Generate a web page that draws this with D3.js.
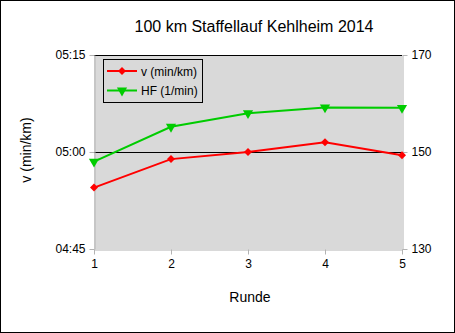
<!DOCTYPE html>
<html><head><meta charset="utf-8">
<script src="https://cdn.jsdelivr.net/npm/d3@7"></script>
<style>body{margin:0;background:#fff}svg{display:block;font-family:"Liberation Sans",Arial,sans-serif}</style>
</head><body><svg id="c" width="455" height="333"></svg>
<script>
const rounds = [1, 2, 3, 4, 5];
// pace in seconds (min*60+s)
const paceSec = [294.5, 298.9, 300.0, 301.5, 299.5];
const heartRate = [148.0, 155.2, 158.0, 159.2, 159.1];
const leftTicks = [285, 300, 315];
const leftTickLabels = ["04:45", "05:00", "05:15"];
const rightTicks = [130, 150, 170];
const seriesNames = ["v (min/km)", "HF (1/min)"];
const title = "100 km Staffellauf Kehlheim 2014";

const svg = d3.select("#c");
const L = 94, R = 402, T = 55, B = 249;
svg.append("rect").attr("x",0.5).attr("y",0.5).attr("width",454).attr("height",332).attr("fill","#fff").attr("stroke","#000");

const x = d3.scaleLinear().domain([1,5]).range([L,R]);
const yL = d3.scaleLinear().domain([285,315]).range([B,T]);
const yR = d3.scaleLinear().domain([130,170]).range([B,T]);

svg.append("rect").attr("x",L).attr("y",T).attr("width",R-L).attr("height",B-T).attr("fill","#d9d9d9");
// gridlines
svg.append("g").selectAll("line").data(leftTicks.slice(1)).join("line")
  .attr("x1",L).attr("x2",R).attr("y1",d=>Math.round(yL(d))+0.5).attr("y2",d=>Math.round(yL(d))+0.5)
  .attr("stroke","#000").attr("stroke-width",1);

const fmt = d => leftTickLabels[leftTicks.indexOf(d)];
const ax = (g)=>{g.selectAll(".domain").attr("stroke","#b3b3b3");g.selectAll(".tick line").attr("stroke","#b3b3b3");g.selectAll("text").attr("fill","#000").style("font-size","12px").style("font-family","'Liberation Sans',Arial,sans-serif");};
svg.append("g").attr("transform",`translate(${L+0.5},0)`).call(d3.axisLeft(yL).tickValues(leftTicks).tickFormat(fmt).tickSize(5).tickSizeOuter(0).tickPadding(4)).call(ax);
svg.append("g").attr("transform",`translate(${R+0.5},0)`).call(d3.axisRight(yR).tickValues(rightTicks).tickSize(5).tickSizeOuter(0).tickPadding(4)).call(ax);
svg.append("g").attr("transform",`translate(0,${B+0.5})`).call(d3.axisBottom(x).tickValues(rounds).tickFormat(d3.format("d")).tickSize(5).tickSizeOuter(0).tickPadding(5)).call(ax);

const red="#ff0000", green="#00cc00";
const tri = d3.symbol().type(d3.symbolTriangle).size(45);
const dia = d3.symbol().type(d3.symbolSquare).size(32);

function series(vals, sc, col, sym, rot){
  svg.append("path").datum(vals).attr("fill","none").attr("stroke",col).attr("stroke-width",2)
    .attr("d", d3.line().x((d,i)=>x(rounds[i])).y(d=>sc(d)));
  svg.append("g").selectAll("path").data(vals).join("path")
    .attr("d",sym).attr("fill",col)
    .attr("transform",(d,i)=>`translate(${x(rounds[i])},${sc(d)}) rotate(${rot})`);
}
series(heartRate, yR, green, tri, 180);
series(paceSec, yL, red, dia, 45);

// legend
const lg = svg.append("g");
lg.append("rect").attr("x",103.5).attr("y",59.5).attr("width",99).attr("height",43).attr("fill","none").attr("stroke","#000");
const items=[[seriesNames[0],red,dia,45],[seriesNames[1],green,tri,180]];
items.forEach((it,i)=>{
  const yy = 71 + i*19.5;
  lg.append("line").attr("x1",107).attr("x2",137).attr("y1",yy).attr("y2",yy).attr("stroke",it[1]).attr("stroke-width",2);
  lg.append("path").attr("d",it[2]).attr("fill",it[1]).attr("transform",`translate(122,${yy}) rotate(${it[3]})`);
  lg.append("text").attr("x",141).attr("y",yy+4.5).text(it[0]).style("font-size","12px");
});

svg.append("text").attr("x",254).attr("y",32).attr("text-anchor","middle").style("font-size","16px").text(title);
svg.append("text").attr("x",250).attr("y",302).attr("text-anchor","middle").style("font-size","14px").text("Runde");
svg.append("text").attr("transform","translate(31,150) rotate(-90)").attr("text-anchor","middle").style("font-size","14px").text("v (min/km)");
</script></body></html>
